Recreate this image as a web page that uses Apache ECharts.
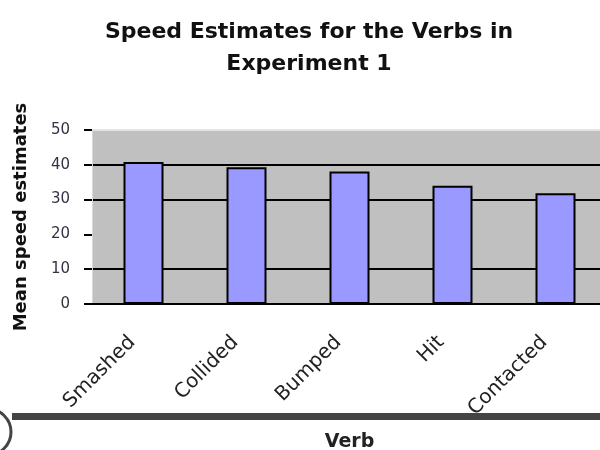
<!DOCTYPE html>
<html>
<head>
<meta charset="utf-8">
<script src="https://cdn.jsdelivr.net/npm/echarts@6/dist/echarts.min.js"></script>
<style>
  html, body { margin: 0; padding: 0; background: #fff; }
  #main { width: 600px; height: 450px; }
</style>
</head>
<body>
<div id="main"></div>
<script>
// data
var verbs = ["Smashed", "Collided", "Bumped", "Hit", "Contacted"];
var speeds = [40.8, 39.3, 38.1, 34.0, 31.8];
var yTicks = [0, 10, 20, 30, 40, 50];

var myChart = echarts.init(document.getElementById("main"));

var option = {
  animation: false,
  title: {
    text: "Speed Estimates for the Verbs in\nExperiment 1",
    left: 304,
    textAlign: "center",
    top: 11,
    textStyle: {
      fontFamily: "DejaVu Sans",
      fontWeight: "bold",
      fontSize: 22,
      lineHeight: 32,
      color: "#111"
    }
  },
  grid: {
    left: 92,
    top: 130,
    bottom: 146,
    width: 515,
    containLabel: false,
    outerBoundsMode: "none",
    show: true,
    backgroundColor: "#c0c0c0",
    borderWidth: 0
  },
  xAxis: {
    type: "category",
    data: verbs,
    name: "Verb",
    nameLocation: "middle",
    nameGap: 129,
    nameTextStyle: {
      fontFamily: "DejaVu Sans",
      fontWeight: "bold",
      fontSize: 19,
      color: "#222"
    },
    axisLine: { lineStyle: { color: "#000", width: 2 } },
    axisTick: { length: 7, lineStyle: { color: "#000", width: 2 } },
    axisLabel: {
      rotate: 45,
      margin: 24,
      padding: [0, 16, 0, 0],
      interval: 0,
      fontFamily: "DejaVu Sans",
      fontSize: 20,
      color: "#222"
    }
  },
  yAxis: {
    type: "value",
    min: yTicks[0],
    max: yTicks[yTicks.length - 1],
    interval: 10,
    name: "Mean speed estimates",
    nameLocation: "middle",
    nameGap: 62,
    nameTextStyle: {
      fontFamily: "DejaVu Sans",
      fontWeight: "bold",
      fontSize: 18,
      color: "#111"
    },
    axisLine: { show: true, lineStyle: { color: "#d8d8d8", width: 1 } },
    axisTick: { show: true, length: 8, lineStyle: { color: "#000", width: 2 } },
    axisLabel: {
      margin: 22,
      fontFamily: "DejaVu Sans",
      fontSize: 15,
      color: "#334"
    },
    splitLine: {
      show: true,
      lineStyle: {
        width: 2,
        // 0, 10, 20 (lost in the picture), 30, 40, 50
        color: ["#000", "#000", "rgba(0,0,0,0)", "#000", "#000", "#e4e4e4"]
      }
    }
  },
  series: [
    {
      type: "bar",
      data: speeds,
      barWidth: 40,
      itemStyle: {
        color: "#9999ff",
        borderColor: "#000",
        borderWidth: 2
      }
    }
  ],
  graphic: [
    {
      type: "line",
      shape: { x1: 12, y1: 416.5, x2: 600, y2: 416.5 },
      style: { stroke: "#444", lineWidth: 7 }
    },
    {
      type: "circle",
      shape: { cx: -12, cy: 432, r: 23 },
      style: { fill: "none", stroke: "#444", lineWidth: 3 }
    }
  ]
};

myChart.setOption(option);
</script>
</body>
</html>
